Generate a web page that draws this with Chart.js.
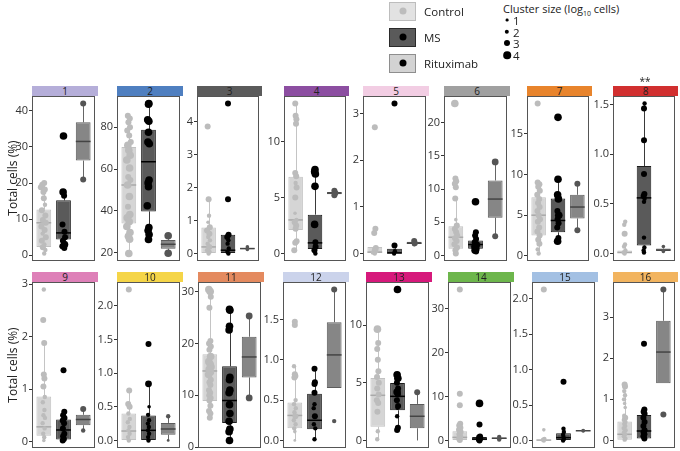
<!DOCTYPE html>
<html><head><meta charset="utf-8">
<script src="https://cdn.jsdelivr.net/npm/chart.js@4.4.1/dist/chart.umd.min.js"></script>
<style>
body{margin:0;background:#fff;font-family:'Open Sans',sans-serif;color:#222}
#wrap{position:relative;width:680px;height:451px;overflow:hidden}
#wrap canvas{position:absolute}
.strip{position:absolute;height:10px;font-size:10px;line-height:10px;text-align:center;color:#222}
.ytitle{position:absolute;left:12px;font-size:12px;white-space:nowrap;transform:translate(-50%,-50%) rotate(-90deg)}
.key{position:absolute;left:389px;width:27px;height:19px;box-sizing:border-box}
.key i,.sz i{position:absolute;border-radius:50%;transform:translate(-50%,-50%)}
.klab{position:absolute;left:424px;font-size:11.5px;transform:translateY(-50%)}
.sz{position:absolute;left:0;top:0}
.szlab{position:absolute;left:513px;font-size:11.5px;transform:translateY(-50%)}
</style></head><body><div id="wrap"></div>
<script>
// cluster labels and y tick labels
const panelLabels = ['1','2','3','4','5','6','7','8','9','10','11','12','13','14','15','16'];
const yTicks = [
  ['0','10','20','30','40'], ['20','40','60','80'], ['0','1','2','3','4'], ['0','5','10'],
  ['0','1','2','3'], ['0','5','10','15','20'], ['0','5','10','15'], ['0.0','0.5','1.0','1.5'],
  ['0','1','2','3'], ['0.0','0.5','1.0','1.5','2.0'], ['0','10','20','30'], ['0.0','0.5','1.0','1.5'],
  ['0','5','10'], ['0','10','20','30'], ['0.0','0.5','1.0','1.5','2.0'], ['0','1','2','3']
];

// box stats per cluster: [lower whisker, q1, median, q3, upper whisker]
const controlBox = [[0.5,2.3,9.0,12.7,20.0],[19.7,34,52.4,70.5,85.5],[0,0,0.2,0.79,1.65],[0.3,2.1,3.0,6.85,13.4],
  [0,0,0.03,0.14,0.14],[0.3,1.0,2.75,4.4,8.6],[0.3,2.5,5.0,7.2,9.0],[0,0,0.01,0.03,0.07],
  [0.02,0.11,0.28,0.86,1.88],[0,0,0.14,0.4,0.74],[5.7,8.9,14.7,17.9,30.4],[0,0.15,0.31,0.47,0.92],
  [0.1,1.19,3.92,5.42,9.66],[0.2,0.2,0.8,2.2,3.9],[0,0,0.005,0.01,0.02],[0,0.02,0.15,0.46,1.15]];
const msBox = [[2.0,4.4,6.2,15.2,17.5],[26.4,39.8,63.5,78.8,91.3],[0,0,0.1,0.57,0.57],[0,0.4,0.95,3.47,7.5],
  [0,0,0.01,0.1,0.17],[0.6,1.0,1.65,2.26,3.5],[1.8,2.9,4.35,7.05,9.4],[0.01,0.08,0.56,0.88,1.51],
  [0.02,0.04,0.22,0.42,0.57],[0,0,0.15,0.37,0.84],[1.3,4.65,9.0,15.6,26.6],[0.015,0.14,0.25,0.58,0.89],
  [0.9,2.62,3.83,4.98,5.7],[0.1,0.15,0.4,0.9,1.0],[0,0,0.04,0.1,0.165],[0,0.05,0.23,0.62,0.75]];
const rituxBox = [[21,26.2,31.5,36.8,42],[19.8,22,24.1,26.2,28.2],[0.12,0.13,0.15,0.17,0.2],[5.2,5.3,5.4,5.5,5.6],
  [0.2,0.21,0.22,0.25,0.27],[2.9,5.7,8.5,11.3,14.1],[3.15,4.6,6.0,7.5,8.85],[0.02,0.025,0.035,0.05,0.07],
  [0.21,0.31,0.42,0.51,0.62],[0,0.085,0.17,0.26,0.36],[9.5,13.45,17.4,21.3,25.3],[0.65,0.65,1.06,1.465,1.87],
  [0,1.06,2.1,3.17,4.18],[0.3,0.45,0.6,0.75,0.9],[0.135,0.135,0.137,0.14,0.14],[1.39,1.39,2.15,2.91,3.67]];

// samples per cluster: [value %, horizontal jitter, cluster size log10]
const controlPts = [
  [[20.0,0.02,3],[19.5,-0.08,3],[18.8,-0.15,3],[18.2,0.05,3],[17.5,-0.02,3],[15.8,0.0,3],[14.0,0.06,2],[12.5,-0.1,3],[11.0,0.08,3],[9.8,-0.05,3],[9.0,0.1,3],[8.0,-0.12,3],[7.0,0.04,3],[6.0,-0.06,2],[5.0,0.1,3],[4.0,-0.1,3],[3.0,0.03,2],[2.2,-0.05,3],[1.5,0.08,2],[0.5,0.02,2]],
  [[85.5,-0.05,3],[84.1,0.05,3],[82.4,-0.02,3],[80,0.06,3],[78.4,-0.08,3],[76,0.02,3],[72.9,0.1,3],[71.3,-0.05,4],[69,0.0,4],[66.6,0.07,4],[64.3,-0.1,4],[60.5,0.04,4],[56.2,-0.03,3],[54.8,0.08,3],[52.4,-0.06,4],[46.9,0.03,4],[42,-0.04,3],[38.3,0.05,4],[36.8,-0.08,4],[34.9,0.02,4],[32.6,-0.1,4],[29.7,0.06,4],[27.9,-0.02,4],[26.5,0.04,4],[19.7,0.0,4]],
  [[3.86,-0.05,3],[1.65,0.0,3],[1.15,0.02,2],[0.95,-0.03,1.5],[0.8,0.06,3],[0.7,-0.08,3],[0.6,0.04,3],[0.5,-0.02,2],[0.4,0.07,2],[0.3,-0.05,2],[0.2,0.03,3],[0.1,-0.08,2],[0.05,0.05,2],[0.0,0.0,2]],
  [[13.4,-0.02,3],[12.3,0.0,3],[12.0,0.04,3],[11.6,0.02,3],[7.2,-0.02,3],[6.9,0.03,3],[6.3,0.0,2],[5.9,0.05,3],[5.0,-0.02,3],[3.6,-0.03,1.5],[3.0,0.04,2],[2.8,-0.05,3],[2.5,0.03,3],[2.2,0.0,3],[1.1,0.05,3],[0.95,-0.02,3],[0.3,-0.07,3]],
  [[2.71,0,3],[0.53,0.03,3],[0.44,-0.03,3],[0.12,0.05,3],[0.08,-0.04,2],[0.05,0.08,2],[0.02,-0.1,2],[0.0,0.0,2]],
  [[22.9,-0.05,4],[11.6,-0.02,3],[11.2,0.02,3],[10.8,-0.05,3],[10.3,0.0,3],[8.6,-0.03,3],[5.4,0.0,1.5],[4.5,0.05,3],[4.0,-0.05,3],[3.5,0.02,3],[3.0,0.07,3],[2.6,-0.04,3],[2.2,0.04,3],[1.7,-0.07,3],[1.2,0.06,3],[0.8,-0.02,3],[0.3,0.0,3]],
  [[18.7,-0.05,3],[9.0,-0.05,3],[8.8,0.04,3],[8.5,-0.02,3],[8.0,0.06,3],[7.5,-0.07,3],[7.0,0.03,3],[6.5,-0.03,3],[6.0,0.05,3],[5.5,-0.06,3],[5.0,0.0,3],[4.5,0.07,3],[4.2,-0.04,3],[3.5,0.03,3],[3.0,-0.06,3],[2.5,0.05,3],[2.0,-0.02,3],[1.5,0.04,3],[0.8,-0.05,2],[0.3,0.0,2]],
  [[0.32,0.03,2],[0.29,-0.02,2],[0.2,0.0,3],[0.09,0.02,2],[0.07,-0.03,2],[0.03,0.04,2],[0.01,-0.05,2],[0.0,0.0,2]],
  [[2.9,0,2],[2.32,-0.03,3],[1.88,0.02,3],[1.28,0.0,3],[1.2,0.03,3],[1.05,-0.02,3],[0.85,0.05,2],[0.75,-0.05,2],[0.6,0.03,2],[0.5,-0.02,2],[0.45,0.06,2],[0.35,-0.06,2],[0.25,0.04,2],[0.15,-0.03,2],[0.08,0.02,2],[0.02,0.0,1.5]],
  [[2.24,0,3],[0.74,0.02,3],[0.54,-0.03,3],[0.5,0.04,3],[0.4,-0.02,2],[0.32,0.05,2],[0.27,-0.05,2],[0.2,0.03,2],[0.15,-0.02,2],[0.1,0.04,2],[0.05,-0.04,2],[0.0,0.0,2]],
  [[30.4,-0.05,4],[30.0,0.02,4],[29.0,0.05,3],[26.9,-0.02,3],[20.5,0.03,3],[20.0,-0.04,3],[19.4,0.05,3],[18.8,-0.02,3],[17.5,0.04,4],[16.5,-0.05,4],[16.0,0.02,4],[15.5,0.06,4],[15.0,-0.03,4],[14.5,0.03,4],[14.0,-0.06,4],[13.0,0.05,3],[12.5,-0.02,3],[12.0,0.03,3],[11.0,-0.04,3],[10.5,0.02,3],[10.0,-0.03,3],[9.5,0.04,3],[9.0,-0.02,3],[8.0,0.03,3],[7.0,-0.04,3],[6.5,0.03,3],[5.7,0.0,3]],
  [[1.47,0,3],[1.43,0,3],[0.92,-0.04,2],[0.82,0.0,3],[0.8,0.03,3],[0.78,-0.02,3],[0.5,0.04,2],[0.45,-0.04,2],[0.4,0.05,2],[0.35,-0.02,2],[0.3,0.03,3],[0.25,-0.05,2],[0.2,0.04,2],[0.15,-0.03,2],[0.11,0.0,1.5],[0.0,0.0,1]],
  [[9.66,-0.02,4],[8.45,0.02,3],[7.93,-0.03,3],[7.0,0.0,3],[6.0,0.03,3],[5.5,-0.04,3],[5.0,0.05,3],[4.5,-0.03,3],[4.0,0.04,3],[3.5,-0.05,3],[3.26,0.02,3],[2.5,-0.02,3],[0.8,0.0,2],[0.1,-0.03,2]],
  [[34.3,0,3],[10.7,0,3],[8.1,0,3],[3.9,0.02,3],[3.5,-0.03,3],[3.0,0.03,3],[2.5,-0.04,3],[2.0,0.04,3],[1.5,-0.02,3],[1.0,0.02,3],[0.5,-0.03,3],[0.2,0.0,3]],
  [[2.13,0,3],[0.15,0,1.5],[0.02,0.03,2],[0.01,-0.04,2],[0.0,0.0,2]],
  [[1.36,0.0,3],[1.31,0.02,3],[1.2,-0.02,2],[1.1,0.02,2],[1.0,-0.03,2],[0.9,0.0,1.5],[0.8,0.03,1.5],[0.6,-0.02,2],[0.55,0.03,3],[0.5,-0.04,2],[0.45,0.04,2],[0.4,-0.02,2],[0.35,0.03,2],[0.3,-0.05,2],[0.25,0.05,2],[0.2,-0.03,2],[0.15,0.02,2],[0.1,-0.04,2],[0.05,0.04,2],[0.02,0.0,2]]
];
const msPts = [
  [[33.0,0.0,4],[17.5,-0.02,4],[16.5,0.03,3],[8.5,-0.05,3],[6.5,0.05,3],[5.0,0.08,3],[4.0,-0.03,3],[3.0,0.05,4],[2.5,-0.06,3],[2.0,0.04,3]],
  [[91.3,0.02,4],[91.0,0.0,4],[83.5,-0.04,4],[82.8,0.02,4],[77.6,0.0,4],[72.9,-0.03,4],[72.1,0.04,4],[54.8,0.03,4],[53.4,-0.02,4],[51.6,0.0,4],[42.5,-0.06,4],[32.1,0.02,4],[30.7,-0.02,4],[28.8,0.03,4],[26.4,0.0,4]],
  [[4.56,0,3],[1.65,0,3],[0.57,0.03,3],[0.5,-0.04,3],[0.4,0.02,2],[0.3,-0.02,2],[0.15,0.04,2],[0.05,-0.03,2],[0.0,0.02,2]],
  [[7.5,0.0,4],[7.3,-0.02,4],[7.1,0.02,4],[6.0,0.0,4],[2.6,-0.02,4],[1.0,0.02,3],[0.6,0.03,3],[0.3,-0.03,3],[0.0,0.02,2]],
  [[3.22,0,3],[0.17,0,3],[0.05,0.02,2],[0.0,-0.02,2]],
  [[8.1,0,4],[3.5,0.02,3],[3.0,-0.02,3],[2.5,0.03,3],[2.0,-0.04,3],[1.6,0.04,4],[1.3,-0.03,4],[1.0,0.02,4],[0.8,-0.02,4],[0.6,0.03,3]],
  [[17.0,0,4],[9.4,0,4],[7.5,-0.02,4],[7.0,0.02,4],[5.5,-0.03,3],[5.0,0.04,4],[4.5,-0.02,3],[4.0,0.03,3],[3.5,-0.04,3],[2.2,0.02,3],[1.8,-0.02,4]],
  [[1.51,0.03,2],[1.46,0.0,3],[1.14,0.0,3],[0.8,0.0,3],[0.6,0.02,3],[0.58,-0.02,3],[0.55,0.03,2],[0.52,0.0,2],[0.16,0.0,2],[0.06,0.02,2],[0.03,-0.02,2],[0.01,0.0,2]],
  [[1.36,0,3],[0.57,0.04,3],[0.5,-0.02,3],[0.45,0.05,3],[0.4,-0.04,3],[0.35,0.03,3],[0.25,-0.03,3],[0.15,0.04,3],[0.1,-0.02,3],[0.05,0.02,3],[0.02,-0.04,3]],
  [[1.43,0,3],[0.84,0,3.5],[0.5,0.03,1.5],[0.38,-0.02,2],[0.3,0.03,2],[0.25,-0.03,2],[0.2,0.02,2],[0.15,-0.02,2],[0.1,0.03,2],[0.05,-0.02,2],[0.0,0.0,2]],
  [[26.6,0.0,4],[26.4,0.02,4],[23.3,0.0,4],[22.6,-0.02,4],[13.5,0.02,4],[13.0,0.0,4],[11.0,0.02,4],[10.5,-0.02,4],[8.2,0.0,4],[6.5,0.02,4],[5.0,-0.02,4],[3.5,0.02,4],[3.0,-0.02,4],[1.3,0.0,4]],
  [[0.89,0,3],[0.72,0.02,3],[0.7,0.0,3],[0.59,0.0,3],[0.45,0.0,2],[0.4,-0.04,2],[0.3,0.02,3],[0.2,-0.03,2],[0.15,0.04,2],[0.015,0,2]],
  [[13.1,0,4],[5.7,-0.02,4],[5.4,0.02,4],[5.0,-0.03,3],[4.5,0.03,3],[4.2,-0.02,4],[4.0,0.02,3],[3.5,-0.03,3],[3.0,0.03,3],[2.83,0.0,2],[2.1,-0.02,2],[1.1,0.02,3],[0.9,-0.02,3]],
  [[8.5,0,4],[3.7,0,3],[1.0,0.03,3],[0.8,-0.02,3],[0.5,0.03,3],[0.3,-0.03,3],[0.1,0.0,3]],
  [[0.83,0,3],[0.165,0,2],[0.12,0.02,2],[0.08,-0.02,2],[0.05,0.0,2],[0.02,0.02,2],[0.0,-0.02,2]],
  [[2.35,0,3],[0.75,0.02,3],[0.7,-0.02,3],[0.65,0.03,3],[0.55,-0.03,3],[0.45,0.03,3],[0.35,-0.03,3],[0.25,0.03,3],[0.2,-0.02,3],[0.15,0.02,3],[0.1,-0.03,3],[0.05,0.02,3]]
];
const rituxPts = [
  [[42,0,3],[21,0,3]], [[28.2,0,4],[19.8,0,4]], [[0.2,0,1.5],[0.15,0,1.5],[0.12,0,1.5]], [[5.6,0,3],[5.4,0.05,3],[5.2,0,3]],
  [[0.27,0,3],[0.22,0.03,3],[0.2,0,2]], [[14.1,0,3.5],[2.9,0,3]], [[8.85,0,3],[3.15,0,3]], [[0.07,0,1.5],[0.02,0,1.5]],
  [[0.62,0,3],[0.21,0,2]], [[0.36,0,2],[0.0,0,1]], [[25.3,0,3.5],[9.5,0,3.5]], [[1.87,0,3],[0.24,0,2]],
  [[4.18,0,3]], [[0.9,0,2],[0.3,0,2]], [[0.14,0,1.5],[0.135,0,1.5]], [[3.67,0,3],[0.63,0,3]]
];

// layout: plot frames [left, top, right, bottom] and strip colours
const frames = [[32,96,98,261],[117,96,183,261],[197,96,262,261],[284,96,349,261],[363,96,429,261],[444,96,510,261],[527,96,592,261],[613,96,678,261],
  [32,282,98,448],[117,282,183,448],[198,282,264,448],[283,282,349,448],[366,282,432,448],[448,282,514,448],[532,282,598,448],[613,282,678,448]];
const stripColors = ['#b5aed9','#4f7fc0','#5b5b5b','#8c4ea1','#f2cde3','#a0a0a0','#e8842c','#d12f2f',
  '#de80b8','#f5d548','#e48a5f','#cbd3eb','#d6197b','#6db64c','#a3c0e3','#f2b45f'];

const groups = [
  {pts: controlPts, box: controlBox, fill:'#d5d5d5', border:'#c2c2c2', med:'#a9a9a9', whisk:'#c4c4c4', dot:'#bcbcbc'},
  {pts: msPts, box: msBox, fill:'#5a5a5a', border:'#1c1c1c', med:'#000000', whisk:'#3a3a3a', dot:'#000000'},
  {pts: rituxPts, box: rituxBox, fill:'#868686', border:'#5c5c5c', med:'#444444', whisk:'#666666', dot:'#555555'}
];
const rad = s => 0.6 + 0.8 * s;
const AXW = 30;
const wrap = document.getElementById('wrap');
Chart.defaults.font.family = "'Open Sans', sans-serif";

const boxPlugin = {
  id: 'boxExtras',
  beforeDatasetsDraw(chart) {
    const ctx = chart.ctx, a = chart.chartArea, y = chart.scales.y;
    const ds = chart.data.datasets[0], meta = chart.getDatasetMeta(0);
    ctx.save();
    ctx.strokeStyle = '#555'; ctx.lineWidth = 1;
    ctx.strokeRect(a.left + 0.5, a.top + 0.5, a.right - a.left - 1, a.bottom - a.top - 1);
    ds.stats.forEach((s, k) => {
      const x = Math.round(meta.data[k].x) + 0.5;
      ctx.strokeStyle = groups[k].whisk;
      ctx.beginPath();
      ctx.moveTo(x, y.getPixelForValue(s[0])); ctx.lineTo(x, y.getPixelForValue(s[1]));
      ctx.moveTo(x, y.getPixelForValue(s[3])); ctx.lineTo(x, y.getPixelForValue(s[4]));
      ctx.stroke();
    });
    ctx.restore();
  },
  afterDatasetDraw(chart, args) {
    if (args.index !== 0) return;
    const ctx = chart.ctx, y = chart.scales.y;
    const ds = chart.data.datasets[0], meta = args.meta;
    ctx.save(); ctx.lineWidth = 1.5;
    ds.stats.forEach((s, k) => {
      const b = meta.data[k], py = y.getPixelForValue(s[2]);
      ctx.strokeStyle = groups[k].med;
      ctx.beginPath(); ctx.moveTo(b.x - b.width / 2, py); ctx.lineTo(b.x + b.width / 2, py); ctx.stroke();
    });
    ctx.restore();
  }
};

panelLabels.forEach((lab, i) => {
  const [L, T, R, B] = frames[i];
  const w = R - L, h = B - T;
  const strip = document.createElement('div');
  strip.className = 'strip'; strip.textContent = lab;
  Object.assign(strip.style, {left: L + 'px', top: (T - 10) + 'px', width: w + 'px', background: stripColors[i]});
  wrap.appendChild(strip);

  const c = document.createElement('canvas');
  c.width = AXW + w + 1; c.height = h + 16;
  c.style.left = (L - AXW) + 'px'; c.style.top = (T - 8) + 'px';
  wrap.appendChild(c);

  const stats = groups.map(g => g.box[i]);
  const vals = [].concat(...groups.map(g => g.pts[i].map(p => p[0])), ...stats);
  const lo = Math.min(...vals), hi = Math.max(...vals), pad = (hi - lo) * 0.05;
  const tickLab = yTicks[i], tickVal = tickLab.map(Number);

  new Chart(c, {
    type: 'scatter',
    data: { datasets: [
      { type: 'bar', stats, data: stats.map((s, k) => ({x: k + 1, y: [s[1], s[3]]})),
        backgroundColor: groups.map(g => g.fill), borderColor: groups.map(g => g.border),
        borderWidth: 1, borderSkipped: false, barPercentage: 1, categoryPercentage: 0.75, order: 10 },
      ...groups.map((g, k) => ({
        data: g.pts[i].map(p => ({x: k + 1 + p[1], y: p[0]})),
        pointRadius: g.pts[i].map(p => rad(p[2])), pointBackgroundColor: g.dot,
        pointBorderWidth: 0, order: 3 - k }))
    ]},
    options: {
      responsive: false, animation: false, devicePixelRatio: 1,
      layout: {padding: {top: 8, bottom: 8, left: 0, right: 1}},
      plugins: {legend: {display: false}, tooltip: {enabled: false}},
      scales: {
        x: {type: 'linear', min: 0.4, max: 3.6, offset: false, display: false,
            grid: {offset: false},
            afterBuildTicks: s => { s.ticks = [{value: 1}, {value: 2}, {value: 3}]; }},
        y: {type: 'linear', min: lo - pad, max: hi + pad,
            afterBuildTicks: s => { s.ticks = tickVal.map(v => ({value: v})); },
            ticks: {autoSkip: false, padding: 1, color: '#333', font: {size: 11},
                    callback: (v, idx) => tickLab[idx]},
            grid: {drawOnChartArea: false, tickLength: 3, color: '#333'},
            border: {display: false},
            afterFit: s => { s.width = AXW; s.paddingTop = 0; s.paddingBottom = 0; }}
      }
    },
    plugins: [boxPlugin]
  });
});

// axis titles, significance mark, legends
[178, 365].forEach(cy => {
  const t = document.createElement('div');
  t.className = 'ytitle'; t.textContent = 'Total cells (%)'; t.style.top = cy + 'px';
  wrap.appendChild(t);
});
const star = document.createElement('div');
star.textContent = '**';
Object.assign(star.style, {position: 'absolute', left: '645px', top: '81px', fontSize: '10px', transform: 'translate(-50%,-50%)'});
wrap.appendChild(star);

const keys = [['Control', 11, '#e2e2e2', '#bdbdbd', '#bcbcbc'], ['MS', 37, '#5a5a5a', '#2a2a2a', '#000'], ['Rituximab', 63, '#d3d3d3', '#8e8e8e', '#000']];
keys.forEach(([name, cy, bg, bd, dot]) => {
  const k = document.createElement('div');
  k.className = 'key';
  Object.assign(k.style, {top: (cy - 9.5) + 'px', background: bg, border: '1px solid ' + bd});
  k.innerHTML = `<i style="left:50%;top:50%;width:7px;height:7px;background:${dot}"></i>`;
  wrap.appendChild(k);
  const l = document.createElement('div');
  l.className = 'klab'; l.textContent = name; l.style.top = cy + 'px';
  wrap.appendChild(l);
});
const szTitle = document.createElement('div');
szTitle.innerHTML = 'Cluster size (log<sub style="font-size:7px">10</sub> cells)';
Object.assign(szTitle.style, {position: 'absolute', left: '503px', top: '1px', fontSize: '11px'});
wrap.appendChild(szTitle);
[1, 2, 3, 4].forEach((s, k) => {
  const cy = 20 + k * 11.7, d = 2 * rad(s);
  const dot = document.createElement('div');
  dot.className = 'sz';
  dot.innerHTML = `<i style="left:507px;top:${cy}px;width:${d}px;height:${d}px;background:#000"></i>`;
  wrap.appendChild(dot);
  const l = document.createElement('div');
  l.className = 'szlab'; l.textContent = s; l.style.top = cy + 'px';
  wrap.appendChild(l);
});
</script></body></html>
